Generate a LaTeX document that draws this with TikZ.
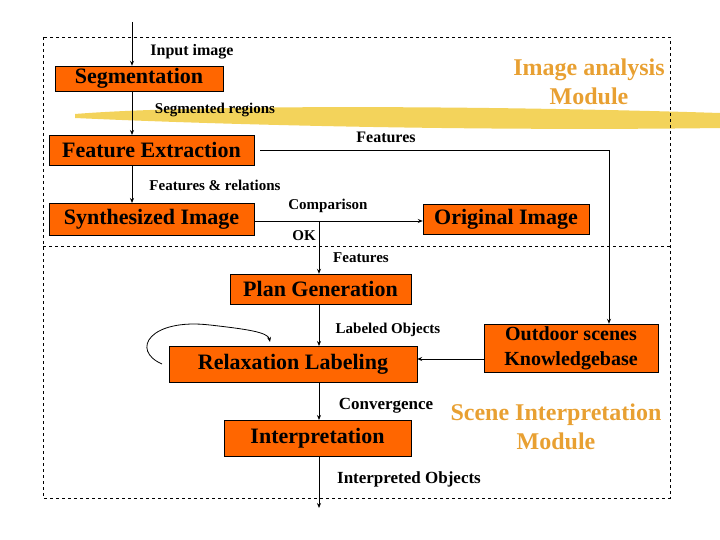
\documentclass[tikz,border=0pt]{standalone}
\usepackage{fontspec}
\setmainfont{Liberation Serif}
\usetikzlibrary{arrows.meta}
\definecolor{boxor}{RGB}{255,102,0}
\definecolor{modor}{RGB}{232,160,50}
\definecolor{brush}{RGB}{240,200,50}
\begin{document}
\begin{tikzpicture}[x=1pt,y=-1pt,
  box/.style={draw=black,fill=boxor,inner sep=0pt,font=\bfseries\fontsize{22}{24}\selectfont,anchor=center},
  lbl/.style={font=\bfseries\fontsize{15}{17}\selectfont,inner sep=0pt},
  mod/.style={font=\bfseries\fontsize{24}{29}\selectfont,text=modor,align=center,inner sep=0pt},
  arr/.style={-{Stealth[length=5pt,width=4pt]},thick},
  ln/.style={thick}]
\useasboundingbox (0,0) rectangle (720,540);
% brush stroke
\fill[brush,opacity=0.8] (75,114) .. controls (200,104) and (500,106) .. (720,113) -- (720,128) .. controls (500,131) and (250,126) .. (75,118) -- cycle;
\draw[dashed] (43,37) rectangle (670,498);
\draw[dashed] (43,246) -- (670,246);
\node[box,minimum width=168pt,minimum height=25pt] (seg) at (139,78.5) {Segmentation};
\node[box,minimum width=205pt,minimum height=30pt] (fe) at (151.5,150) {Feature Extraction};
\node[box,minimum width=205pt,minimum height=32pt] (si) at (151.5,219) {Synthesized Image};
\node[box,minimum width=166pt,minimum height=30pt] (oi) at (506,219) {Original Image};
\node[box,minimum width=181pt,minimum height=30pt] (pg) at (320.5,289) {Plan Generation};
\node[box,minimum width=248pt,minimum height=36pt] (rl) at (293,364) {Relaxation Labeling};
\node[box,minimum width=174pt,minimum height=48pt,align=center,font=\bfseries\fontsize{20}{25}\selectfont] (kb) at (571,348) {Outdoor scenes\\Knowledgebase};
\node[box,minimum width=187pt,minimum height=36pt] (in) at (317.5,438) {Interpretation};
\coordinate (top) at (132,22);
\coordinate (bot) at (319,508);
\coordinate (cmp) at (319,221);
\coordinate (fr) at (609,150);
\draw[arr] (top) -- (top |- seg.north);
\draw[arr] (132,91) -- (132,135);
\draw[arr] (132,165) -- (132,203);
\draw[arr] (si.east |- cmp) -- (oi.west |- cmp);
\draw[arr] (cmp) -- (cmp |- pg.north);
\draw[arr] (319,304) -- (319,346);
\draw[arr] (319,382) -- (319,420);
\draw[arr] (319,456) -- (bot);
\draw[arr] (260,150) -- (fr) -- (fr |- kb.north);
\draw[arr] (kb.west |- 0,359) -- (rl.east |- 0,359);
\draw[arr] (162,364) .. controls (130,350) and (150,318) .. (210,325) .. controls (245,329) and (268,332) .. (270,342);
\node[lbl,font=\bfseries\fontsize{16}{18}\selectfont] (l1) at (192,52) {Input image};
\node[mod] (m1) at (589,82) {Image analysis\\Module};
\node[lbl] (l2) at (215,110) {Segmented regions};
\node[lbl,font=\bfseries\fontsize{16}{18}\selectfont] (l3) at (386,137) {Features};
\node[lbl] (l4) at (215,185) {Features \& relations};
\node[lbl] (l5) at (328,206) {Comparison};
\node[lbl] (l6) at (304,236) {OK};
\node[lbl] (l7) at (361,258) {Features};
\node[lbl] (l8) at (388,330) {Labeled Objects};
\node[lbl,font=\bfseries\fontsize{17}{19}\selectfont] (l9) at (386,406) {Convergence};
\node[mod] (m2) at (556,427) {Scene Interpretation\\Module};
\node[lbl,font=\bfseries\fontsize{17}{19}\selectfont] (l10) at (409,479) {Interpreted Objects};
\end{tikzpicture}
\end{document}
